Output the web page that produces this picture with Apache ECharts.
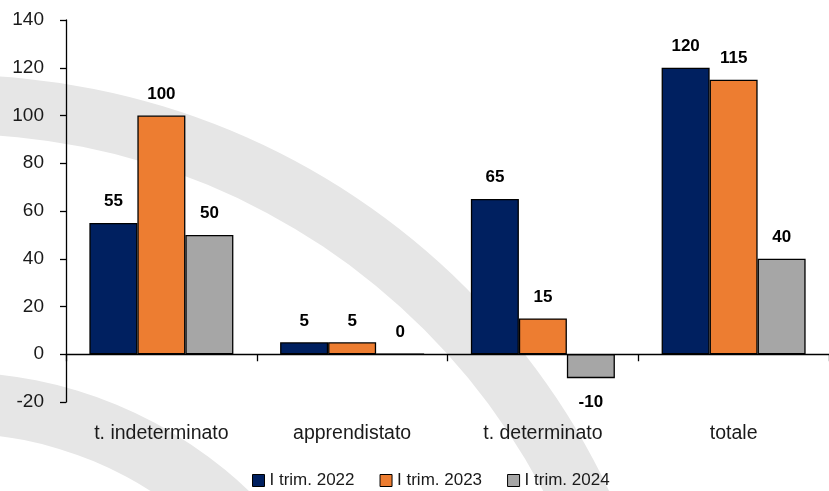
<!DOCTYPE html>
<html>
<head>
<meta charset="utf-8">
<script src="https://cdn.jsdelivr.net/npm/echarts@6/dist/echarts.min.js"></script>
<style>
html,body{margin:0;padding:0;background:#fff;}
#chart{width:829px;height:491px;}
</style>
</head>
<body>
<div id="chart"></div>
<script>
var categories = ['t. indeterminato', 'apprendistato', 't. determinato', 'totale'];
var seriesNames = ['I trim. 2022', 'I trim. 2023', 'I trim. 2024'];
var values2022 = [55, 5, 65, 120];
var values2023 = [100, 5, 15, 115];
var values2024 = [50, 0, -10, 40];
var yTicks = [-20, 0, 20, 40, 60, 80, 100, 120, 140];

var FONT = '"Liberation Sans", Arial, sans-serif';
var colors = ['#002060', '#ED7D31', '#A6A6A6'];

function toData(arr) {
  return arr.map(function (v) {
    return {
      value: v,
      label: v < 0 ? { position: 'bottom', distance: 16 } : { position: 'top', distance: 13 }
    };
  });
}

function makeSeries(name, arr, color) {
  return {
    name: name,
    type: 'bar',
    data: toData(arr),
    barWidth: 48,
    barGap: '0%',
    itemStyle: { color: color, borderColor: '#000', borderWidth: 1.3 },
    label: {
      show: true,
      color: '#000',
      fontFamily: FONT,
      fontWeight: 'bold',
      fontSize: 17
    },
    emphasis: { disabled: true }
  };
}

var chart = echarts.init(document.getElementById('chart'), null, { renderer: 'canvas' });
chart.setOption({
  animation: false,
  backgroundColor: '#fff',
  graphic: [
    { type: 'ring', z: -10, silent: true, shape: { cx: -48, cy: 802, r: 727, r0: 668 }, style: { fill: '#e6e6e6' } },
    { type: 'ring', z: -10, silent: true, shape: { cx: -48, cy: 802, r: 430, r0: 369 }, style: { fill: '#e6e6e6' } }
  ],
  grid: { left: 66, top: 20, width: 768, bottom: 89, containLabel: false },
  legend: {
    data: seriesNames,
    left: 252,
    top: 472,
    padding: 0,
    itemWidth: 12,
    itemHeight: 12,
    itemGap: 25,
    icon: 'rect',
    textStyle: { fontFamily: FONT, fontSize: 17, color: '#1a1a1a' },
    itemStyle: { borderColor: '#000', borderWidth: 1 }
  },
  xAxis: {
    type: 'category',
    data: categories,
    axisLine: { onZero: true, lineStyle: { color: '#000', width: 1.3 } },
    axisTick: { show: true, length: 7, alignWithLabel: false, lineStyle: { color: '#000', width: 1.3 } },
    axisLabel: { interval: 0, margin: 22, fontFamily: FONT, fontSize: 19.5, color: '#1a1a1a' },
    splitLine: { show: false }
  },
  yAxis: {
    type: 'value',
    min: yTicks[0],
    max: yTicks[yTicks.length - 1],
    interval: 20,
    axisLine: { show: true, lineStyle: { color: '#000', width: 1.3 } },
    axisTick: { show: true, length: 6, lineStyle: { color: '#000', width: 1.3 } },
    axisLabel: { margin: 22, fontFamily: FONT, fontSize: 19, color: '#1a1a1a' },
    splitLine: { show: false }
  },
  series: [
    makeSeries(seriesNames[0], values2022, colors[0]),
    makeSeries(seriesNames[1], values2023, colors[1]),
    makeSeries(seriesNames[2], values2024, colors[2])
  ]
});
</script>
</body>
</html>
